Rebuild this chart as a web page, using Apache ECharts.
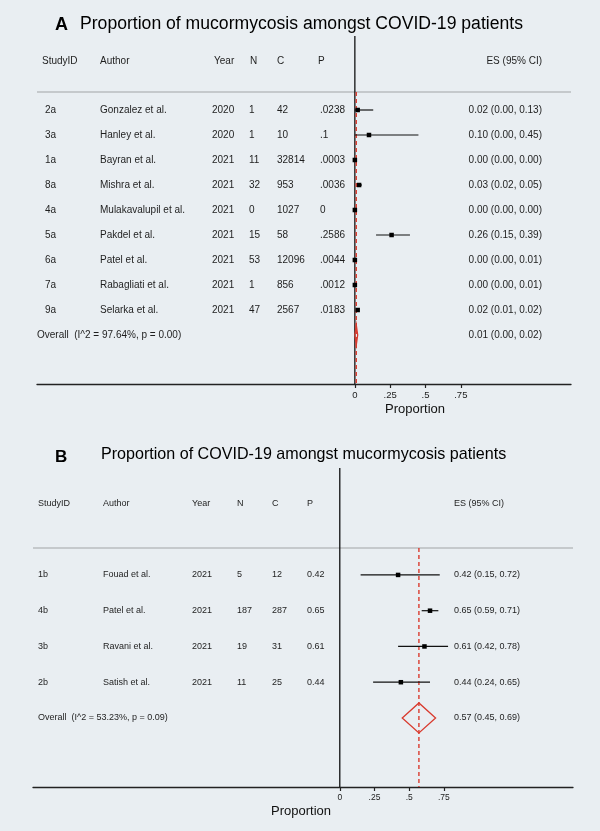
<!DOCTYPE html>
<html><head><meta charset="utf-8">
<script src="https://cdn.jsdelivr.net/npm/echarts@6/dist/echarts.min.js"></script>
<style>html,body{margin:0;padding:0;background:#e9eef2;}#c{width:600px;height:831px;}</style>
</head><body><div id="c"></div>
<script>
// ---------- Panel A data ----------
const titleA = 'Proportion of mucormycosis amongst COVID-19 patients';
const headerA = ['StudyID', 'Author', 'Year', 'N', 'C', 'P', 'ES (95% CI)'];
const studyA = ['2a', '3a', '1a', '8a', '4a', '5a', '6a', '7a', '9a'];
const authorA = ['Gonzalez et al.', 'Hanley et al.', 'Bayran et al.', 'Mishra et al.', 'Mulakavalupil et al.', 'Pakdel et al.', 'Patel et al.', 'Rabagliati et al.', 'Selarka et al.'];
const yearA = ['2020', '2020', '2021', '2021', '2021', '2021', '2021', '2021', '2021'];
const nA = ['1', '1', '11', '32', '0', '15', '53', '1', '47'];
const cA = ['42', '10', '32814', '953', '1027', '58', '12096', '856', '2567'];
const pA = ['.0238', '.1', '.0003', '.0036', '0', '.2586', '.0044', '.0012', '.0183'];
const esA = [0.02, 0.10, 0.00, 0.03, 0.00, 0.26, 0.00, 0.00, 0.02];
const loA = [0.00, 0.00, 0.00, 0.02, 0.00, 0.15, 0.00, 0.00, 0.01];
const hiA = [0.13, 0.45, 0.00, 0.05, 0.00, 0.39, 0.01, 0.01, 0.02];
const overallA = [0.01, 0.00, 0.02];
const hetA = 'Overall  (I^2 = 97.64%, p = 0.00)';
// ---------- Panel B data ----------
const titleB = 'Proportion of COVID-19 amongst mucormycosis patients';
const headerB = ['StudyID', 'Author', 'Year', 'N', 'C', 'P', 'ES (95% CI)'];
const studyB = ['1b', '4b', '3b', '2b'];
const authorB = ['Fouad et al.', 'Patel et al.', 'Ravani et al.', 'Satish et al.'];
const yearB = ['2021', '2021', '2021', '2021'];
const nB = ['5', '187', '19', '11'];
const cB = ['12', '287', '31', '25'];
const pB = ['0.42', '0.65', '0.61', '0.44'];
const esB = [0.42, 0.65, 0.61, 0.44];
const loB = [0.15, 0.59, 0.42, 0.24];
const hiB = [0.72, 0.71, 0.78, 0.65];
const overallB = [0.57, 0.45, 0.69];
const hetB = 'Overall  (I^2 = 53.23%, p = 0.09)';
// axis ticks
const tickValues = [0, 0.25, 0.5, 0.75];
const tickLabels = ['0', '.25', '.5', '.75'];
const axisName = 'Proportion';

const FONT = '"Liberation Sans", Arial, Helvetica, sans-serif';
const fmt = v => v.toFixed(2);
const esText = (e, l, h) => fmt(e) + ' (' + fmt(l) + ', ' + fmt(h) + ')';

// panel layout (pixels / row units)
const P = [
  {grid:{left:37, width:534, top:36, height:348}, xmin:-2.25, xmax:1.53, ymin:-2.96, ymax:10.96,
   hdrY:-1.96, hdrLine:-0.72, cols:[[45,'left'],[100,'left'],[212,'left'],[249,'left'],[277,'left'],[320,'left'],[542,'right']],
   hcols:[[42,'left'],[100,'left'],[214,'left'],[250,'left'],[277,'left'],[318,'left'],[542,'right']],
   overallX:37, size:10, diaH:10, sq:4.5, tickFont:9.5},
  {grid:{left:33, width:540, top:468, height:319}, xmin:-2.21, xmax:1.68, ymin:-2.99, ymax:5.93,
   hdrY:-1.99, hdrLine:-0.755, cols:[[38,'left'],[103,'left'],[192,'left'],[237,'left'],[272,'left'],[307,'left'],[454,'left']],
   hcols:[[38,'left'],[103,'left'],[192,'left'],[237,'left'],[272,'left'],[307,'left'],[454,'left']],
   overallX:38, size:9, diaH:15, sq:4.5, tickFont:8.5}
];

const panels = [
  {study:studyA, author:authorA, year:yearA, n:nA, c:cA, p:pA, es:esA, lo:loA, hi:hiA, ov:overallA, het:hetA, header:headerA},
  {study:studyB, author:authorB, year:yearB, n:nB, c:cB, p:pB, es:esB, lo:loB, hi:hiB, ov:overallB, het:hetB, header:headerB}
];

const grids = [], xAxes = [], yAxes = [], series = [];
panels.forEach((d, k) => {
  const L = P[k];
  grids.push(L.grid);
  xAxes.push({type:'value', gridIndex:k, min:L.xmin, max:L.xmax,
    axisLine:{show:true, onZero:false, lineStyle:{color:'#222', width:1.3}},
    axisTick:{show:true, customValues:tickValues, length:4, lineStyle:{color:'#222', width:1.2}},
    axisLabel:{show:true, customValues:tickValues, margin:6, color:'#222', fontFamily:FONT, fontSize:L.tickFont,
      formatter: v => tickLabels[tickValues.indexOf(v)] !== undefined ? tickLabels[tickValues.indexOf(v)] : ''},
    splitLine:{show:false}});
  yAxes.push({type:'value', gridIndex:k, min:L.ymin, max:L.ymax, inverse:true, show:false});
  const nRows = d.study.length;
  // table rows
  const rows = [{y:L.hdrY, cells:d.header, cols:L.hcols}];
  d.study.forEach((s, i) => rows.push({y:i, cells:[s, d.author[i], d.year[i], d.n[i], d.c[i], d.p[i], esText(d.es[i], d.lo[i], d.hi[i])], cols:L.cols}));
  rows.push({y:nRows, cells:[d.het, esText(d.ov[0], d.ov[1], d.ov[2])], cols:[[L.overallX,'left'], L.cols[6]]});
  series.push({type:'custom', xAxisIndex:k, yAxisIndex:k, silent:true, clip:false,
    data: rows.map(r => [0, r.y]),
    renderItem: (params, api) => {
      const r = rows[params.dataIndex];
      const y = api.coord([0, api.value(1)])[1];
      return {type:'group', children: r.cells.map((t, j) => ({type:'text', style:{text:t, x:r.cols[j][0], y:y,
        align:r.cols[j][1], verticalAlign:'middle', fontFamily:FONT, fontSize:L.size, fill:'#1e1e1e'}}))};
    }});
  // header separator line
  series.push({type:'line', xAxisIndex:k, yAxisIndex:k, silent:true, symbol:'none',
    data:[[L.xmin, L.hdrLine], [L.xmax, L.hdrLine]], lineStyle:{color:'#b8bcbf', width:1.5}});
  // vertical null line at 0
  series.push({type:'line', xAxisIndex:k, yAxisIndex:k, silent:true, symbol:'none',
    data:[[0, L.ymin], [0, L.ymax]], lineStyle:{color:'#111', width:1.3}, z:3});
  // overall dashed red line
  series.push({type:'line', xAxisIndex:k, yAxisIndex:k, silent:true, symbol:'none',
    data:[[d.ov[0], L.hdrLine], [d.ov[0], L.ymax]], lineStyle:{color:'#d93a2e', width:1.4, type:[4,3]}, z:4});
  // CI + squares
  series.push({type:'custom', xAxisIndex:k, yAxisIndex:k, silent:true, z:5,
    data: d.es.map((e, i) => [e, i, d.lo[i], d.hi[i]]),
    encode:{x:[0,2,3], y:1},
    renderItem: (params, api) => {
      const p = api.coord([api.value(0), api.value(1)]);
      const a = api.coord([api.value(2), api.value(1)]);
      const b = api.coord([api.value(3), api.value(1)]);
      const s = L.sq;
      return {type:'group', children:[
        {type:'line', shape:{x1:a[0], y1:a[1], x2:b[0], y2:b[1]}, style:{stroke:'#111', lineWidth:1.2}},
        {type:'rect', shape:{x:p[0]-s/2, y:p[1]-s/2, width:s, height:s}, style:{fill:'#000'}}
      ]};
    }});
  // overall diamond
  series.push({type:'custom', xAxisIndex:k, yAxisIndex:k, silent:true, z:6,
    data:[[d.ov[0], nRows, d.ov[1], d.ov[2]]], encode:{x:[0,2,3], y:1},
    renderItem: (params, api) => {
      const c = api.coord([api.value(0), api.value(1)]);
      const a = api.coord([api.value(2), api.value(1)]);
      const b = api.coord([api.value(3), api.value(1)]);
      const h = L.diaH;
      return {type:'polygon', shape:{points:[[a[0], c[1]], [c[0], c[1]-h], [b[0], c[1]], [c[0], c[1]+h]]},
        style:{fill:'none', stroke:'#d93a2e', lineWidth:1.3}};
    }});
});

const chart = echarts.init(document.getElementById('c'), null, {renderer:'canvas'});
chart.setOption({
  backgroundColor:'#e9eef2',
  animation:false,
  grid:grids, xAxis:xAxes, yAxis:yAxes, series:series,
  graphic:[
    {type:'text', x:55, y:25, style:{text:'A', align:'left', verticalAlign:'middle', font:'bold 18px ' + FONT, fill:'#000'}},
    {type:'text', x:80, y:24, style:{text:titleA, align:'left', verticalAlign:'middle', font:'17.6px ' + FONT, fill:'#000'}},
    {type:'text', x:55, y:457, style:{text:'B', align:'left', verticalAlign:'middle', font:'bold 17px ' + FONT, fill:'#000'}},
    {type:'text', x:101, y:455, style:{text:titleB, align:'left', verticalAlign:'middle', font:'16.1px ' + FONT, fill:'#000'}},
    {type:'text', x:415, y:409, style:{text:axisName, align:'center', verticalAlign:'middle', font:'13px ' + FONT, fill:'#111'}},
    {type:'text', x:301, y:811, style:{text:axisName, align:'center', verticalAlign:'middle', font:'13px ' + FONT, fill:'#111'}}
  ]
});
</script></body></html>
